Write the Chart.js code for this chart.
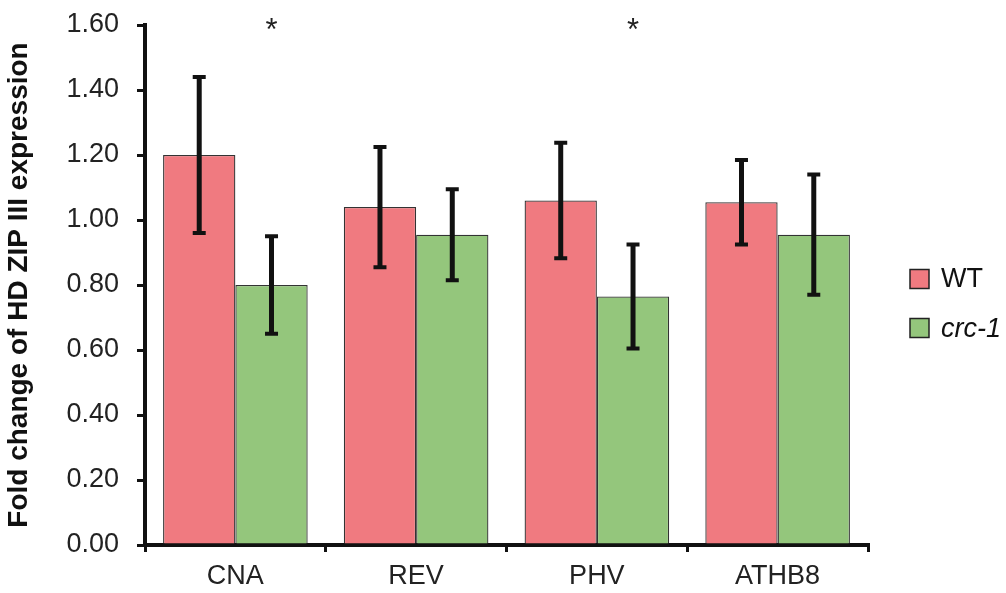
<!DOCTYPE html>
<html>
<head>
<meta charset="utf-8">
<script src="https://cdn.jsdelivr.net/npm/chart.js@4/dist/chart.umd.min.js"></script>
<style>
  html, body { margin: 0; padding: 0; background: #ffffff; }
  #wrap { width: 1006px; height: 593px; position: relative; }
</style>
</head>
<body>
<div id="wrap"><canvas id="chart" width="1006" height="593"></canvas></div>
<script>
// Genes measured
const categories = ['CNA', 'REV', 'PHV', 'ATHB8'];
// Mean fold change per genotype
const wtValues = [1.20, 1.04, 1.06, 1.055];
const crcValues = [0.80, 0.955, 0.765, 0.955];
// Error bar half-widths
const wtErrors = [0.24, 0.185, 0.178, 0.13];
const crcErrors = [0.15, 0.14, 0.16, 0.185];
// Significance marks (drawn over the crc-1 bar)
const significant = [true, false, true, false];
// Y axis tick labels
const yTickLabels = ['0.00', '0.20', '0.40', '0.60', '0.80', '1.00', '1.20', '1.40', '1.60'];

const seriesNames = ['WT', 'crc-1'];
const seriesColors = ['#f07a80', '#94c67c'];
const seriesItalic = [false, true];
const errorSets = [wtErrors, crcErrors];
const FONT = '"Liberation Sans", Arial, Helvetica, sans-serif';

const errorBarPlugin = {
  id: 'errorBars',
  afterDatasetsDraw(chart) {
    const ctx = chart.ctx;
    const y = chart.scales.y;
    ctx.save();
    ctx.strokeStyle = '#111111';
    chart.data.datasets.forEach((ds, di) => {
      const meta = chart.getDatasetMeta(di);
      meta.data.forEach((bar, i) => {
        const v = ds.data[i];
        const e = errorSets[di][i];
        const yTop = y.getPixelForValue(v + e);
        const yBot = y.getPixelForValue(v - e);
        ctx.lineWidth = 5;
        ctx.beginPath();
        ctx.moveTo(bar.x, yTop);
        ctx.lineTo(bar.x, yBot);
        ctx.stroke();
        ctx.lineWidth = 4;
        ctx.beginPath();
        ctx.moveTo(bar.x - 6.5, yTop);
        ctx.lineTo(bar.x + 6.5, yTop);
        ctx.moveTo(bar.x - 6.5, yBot);
        ctx.lineTo(bar.x + 6.5, yBot);
        ctx.stroke();
      });
    });
    // significance asterisks
    const crcMeta = chart.getDatasetMeta(1);
    ctx.fillStyle = '#222222';
    ctx.font = '31px ' + FONT;
    ctx.textAlign = 'center';
    ctx.textBaseline = 'alphabetic';
    significant.forEach((s, i) => {
      if (s) ctx.fillText('*', crcMeta.data[i].x, chart.chartArea.top + 15);
    });
    ctx.restore();
  }
};

const sideLegendPlugin = {
  id: 'sideLegend',
  afterDraw(chart) {
    const ctx = chart.ctx;
    ctx.save();
    const x0 = 910, size = 19, rows = [279, 328];
    seriesNames.forEach((name, i) => {
      const cy = rows[i];
      ctx.fillStyle = seriesColors[i];
      ctx.fillRect(x0, cy - size / 2, size, size);
      ctx.lineWidth = 1.5;
      ctx.strokeStyle = '#222222';
      ctx.strokeRect(x0, cy - size / 2, size, size);
      ctx.fillStyle = '#111111';
      ctx.font = (seriesItalic[i] ? 'italic ' : '') + '27px ' + FONT;
      ctx.textAlign = 'left';
      ctx.textBaseline = 'middle';
      ctx.fillText(name, x0 + 31, cy + 1);
    });
    ctx.restore();
  }
};

new Chart(document.getElementById('chart'), {
  type: 'bar',
  data: {
    labels: categories,
    datasets: [
      { label: seriesNames[0], data: wtValues, backgroundColor: seriesColors[0], borderColor: '#333333', borderWidth: 1.3 },
      { label: seriesNames[1], data: crcValues, backgroundColor: seriesColors[1], borderColor: '#333333', borderWidth: 1.3 }
    ]
  },
  options: {
    responsive: false,
    animation: false,
    layout: { padding: { left: 0, right: 138, top: 25, bottom: 0 } },
    plugins: { legend: { display: false }, tooltip: { enabled: false } },
    datasets: { bar: { categoryPercentage: 0.8, barPercentage: 1.0 } },
    scales: {
      x: {
        offset: true,
        grid: { display: true, drawOnChartArea: false, offset: true, tickLength: 7, lineWidth: 3, color: '#111111' },
        border: { display: true, width: 4, color: '#111111' },
        ticks: { color: '#222222', font: { family: FONT, size: 27 }, padding: 8 },
        afterFit(scale) { scale.height = 48; }
      },
      y: {
        min: 0,
        max: 1.6,
        grid: { display: true, drawOnChartArea: false, tickLength: 8, lineWidth: 3, color: '#111111' },
        border: { display: true, width: 4, color: '#111111' },
        ticks: {
          stepSize: 0.2,
          color: '#222222',
          font: { family: FONT, size: 27 },
          padding: 18,
          callback: (v, i) => yTickLabels[i]
        },
        title: {
          display: true,
          text: 'Fold change of HD ZIP III expression',
          color: '#111111',
          font: { family: FONT, size: 28, weight: 'bold' },
          padding: { top: 2, bottom: 4 }
        },
        afterFit(scale) {
          scale.width = 145;
          scale.paddingTop = 0;
          scale.paddingBottom = 0;
        }
      }
    }
  },
  plugins: [errorBarPlugin, sideLegendPlugin]
});
</script>
</body>
</html>
